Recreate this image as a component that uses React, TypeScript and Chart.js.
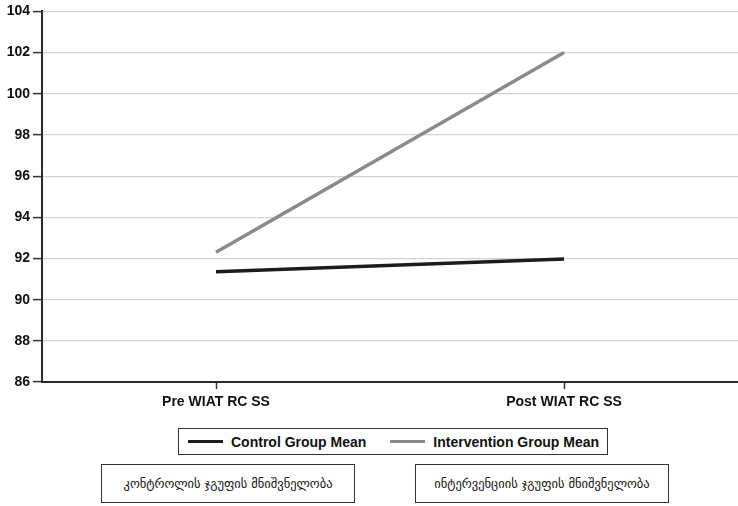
import React, { useEffect, useRef } from "react";
import { Chart, registerables } from "chart.js";

Chart.register(...registerables);

const categories = ["Pre WIAT RC SS", "Post WIAT RC SS"];
const controlMeans = [91.35, 91.98];
const interventionMeans = [92.3, 102.0];
const seriesLabels = ["Control Group Mean", "Intervention Group Mean"];
const georgianLabels = ["კონტროლის ჯგუფის მნიშვნელობა", "ინტერვენციის ჯგუფის მნიშვნელობა"];
const yMin = 86;
const yMax = 104;
const yStep = 2;

const CONTROL_COLOR = "#1c1c1c";
const INTERVENTION_COLOR = "#8a8a8a";
const FONT = "'Liberation Sans', Arial, sans-serif";

export default function App() {
  const ref = useRef<HTMLCanvasElement | null>(null);

  useEffect(() => {
    document.body.style.margin = "0";
    const canvas = ref.current;
    if (!canvas) return;
    const chart = new Chart(canvas, {
      type: "line",
      data: {
        labels: categories,
        datasets: [
          {
            label: seriesLabels[0],
            data: controlMeans,
            borderColor: CONTROL_COLOR,
            backgroundColor: CONTROL_COLOR,
            borderWidth: 3.5,
            pointRadius: 0,
            tension: 0,
          },
          {
            label: seriesLabels[1],
            data: interventionMeans,
            borderColor: INTERVENTION_COLOR,
            backgroundColor: INTERVENTION_COLOR,
            borderWidth: 3.5,
            pointRadius: 0,
            tension: 0,
          },
        ],
      },
      options: {
        animation: false,
        responsive: false,
        maintainAspectRatio: false,
        layout: { padding: { top: 9, right: 0, left: 0, bottom: 0 } },
        plugins: { legend: { display: false }, tooltip: { enabled: false } },
        scales: {
          x: {
            offset: true,
            grid: {
              offset: false,
              drawOnChartArea: false,
              drawTicks: true,
              tickLength: 7,
              tickColor: "#333",
              tickWidth: 1.5,
            },
            border: { color: "#2a2a2a", width: 2 },
            ticks: {
              color: "#111",
              font: { family: FONT, size: 14, weight: "bold" },
              padding: 5,
              maxRotation: 0,
            },
            afterFit: (scale: any) => {
              scale.height = 420 - 382;
            },
          },
          y: {
            min: yMin,
            max: yMax,
            ticks: {
              stepSize: yStep,
              color: "#111",
              font: { family: FONT, size: 14, weight: "bold" },
              padding: 3,
            },
            grid: {
              color: "#d4d4d4",
              lineWidth: 1.2,
              tickColor: "#333",
              tickLength: 9,
              tickWidth: 1.5,
            },
            border: { color: "#2a2a2a", width: 2 },
            afterFit: (scale: any) => {
              scale.width = 42;
            },
          },
        },
      },
    });
    return () => chart.destroy();
  }, []);

  const legendItem = (color: string, text: string) => (
    <div style={{ display: "flex", alignItems: "center" }}>
      <div style={{ width: 35, height: 3.5, background: color, marginRight: 8 }} />
      <span style={{ fontFamily: FONT, fontWeight: "bold", fontSize: 14, color: "#111" }}>{text}</span>
    </div>
  );

  const boxStyle = (left: number, width: number): React.CSSProperties => ({
    position: "absolute",
    left,
    top: 464,
    width,
    height: 39,
    boxSizing: "border-box",
    border: "1.5px solid #333",
    background: "#fff",
    display: "flex",
    alignItems: "center",
    justifyContent: "center",
    fontFamily: "'DejaVu Sans', 'Noto Sans', sans-serif",
    fontSize: 12.5,
    color: "#111",
  });

  return (
    <div style={{ position: "absolute", left: 0, top: 0, width: 738, height: 506, background: "#fff" }}>
      <canvas ref={ref} width={738} height={420} style={{ position: "absolute", left: 0, top: 0 }} />
      <div
        style={{
          position: "absolute",
          left: 178,
          top: 428,
          width: 430,
          height: 27,
          boxSizing: "border-box",
          border: "1.5px solid #333",
          background: "#fff",
          display: "flex",
          alignItems: "center",
          paddingLeft: 9,
          gap: 24,
        }}
      >
        {legendItem(CONTROL_COLOR, seriesLabels[0])}
        {legendItem(INTERVENTION_COLOR, seriesLabels[1])}
      </div>
      <div style={boxStyle(101, 254)}>{georgianLabels[0]}</div>
      <div style={boxStyle(415, 254)}>{georgianLabels[1]}</div>
    </div>
  );
}
